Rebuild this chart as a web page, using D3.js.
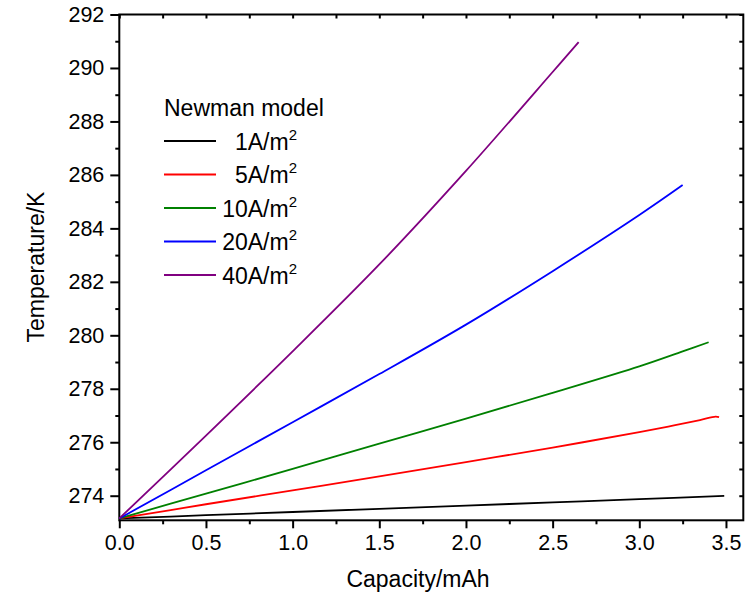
<!DOCTYPE html>
<html>
<head>
<meta charset="utf-8">
<script src="https://cdn.jsdelivr.net/npm/d3@7"></script>
<style>
  body { margin: 0; background: #fff; }
  svg text { font-family: Arial, "Liberation Sans", sans-serif; fill: #000; }
</style>
</head>
<body>
<svg id="chart" width="749" height="597"></svg>
<script>
// ============================================================
// DATA
// ============================================================
const seriesNames = ['1', '5', '10', '20', '40'];
const seriesColors = ['#000000', '#ff0000', '#008000', '#0000ff', '#800080'];

const cap1  = [0, 0.5, 1.0, 1.5, 2.0, 2.5, 3.0, 3.49];
const temp1 = [273.15, 273.27, 273.39, 273.51, 273.63, 273.75, 273.87, 273.99];

const cap5  = [0, 0.5, 1.0, 1.5, 2.0, 2.5, 3.0, 3.2, 3.35, 3.44, 3.46];
const temp5 = [273.15, 273.68, 274.2, 274.72, 275.26, 275.8, 276.38, 276.63, 276.83, 276.96, 276.94];

const cap10  = [0, 0.5, 1.0, 1.5, 2.0, 2.5, 3.0, 3.25, 3.40];
const temp10 = [273.15, 274.08, 275.0, 275.95, 276.88, 277.85, 278.84, 279.4, 279.74];

const cap20  = [0, 0.5, 1.0, 1.5, 2.0, 2.5, 3.0, 3.25];
const temp20 = [273.15, 274.95, 276.75, 278.55, 280.4, 282.4, 284.5, 285.62];

const cap40  = [0, 0.5, 1.0, 1.5, 2.0, 2.5, 2.65];
const temp40 = [273.15, 276.25, 279.4, 282.65, 286.15, 289.85, 290.97];

const xTicks = [0, 0.5, 1.0, 1.5, 2.0, 2.5, 3.0, 3.5];
const yTicks = [274, 276, 278, 280, 282, 284, 286, 288, 290, 292];

const series = [
  { name: seriesNames[0], color: seriesColors[0], x: cap1,  y: temp1 },
  { name: seriesNames[1], color: seriesColors[1], x: cap5,  y: temp5 },
  { name: seriesNames[2], color: seriesColors[2], x: cap10, y: temp10 },
  { name: seriesNames[3], color: seriesColors[3], x: cap20, y: temp20 },
  { name: seriesNames[4], color: seriesColors[4], x: cap40, y: temp40 }
];

// ============================================================
// SCALES
// ============================================================
const svg = d3.select('#chart');
const plotL = 119.3, plotR = 743.3, plotT = 14.5, plotB = 520.3;

const x = d3.scaleLinear().domain([0, 3.6]).range([plotL, plotR]);
const y = d3.scaleLinear().domain([273.08, 292]).range([plotB, plotT]);

// minor ticks halfway between majors
const xMinor = xTicks.map(v => v + 0.25).filter(v => v < 3.6);
const yMinor = yTicks.map(v => v - 1).filter(v => v > 273.08);

// ============================================================
// AXES
// ============================================================
function styleAxis(g) {
  g.select('.domain').remove();
  g.selectAll('line').attr('stroke', '#000').attr('stroke-width', 2);
  g.selectAll('text').style('font-size', '21.5px');
}

// bottom
svg.append('g')
  .attr('transform', `translate(0,${plotB})`)
  .call(d3.axisBottom(x).tickValues(xTicks).tickFormat(d3.format('.1f')).tickSize(8).tickPadding(6))
  .call(styleAxis);
svg.append('g')
  .attr('transform', `translate(0,${plotB})`)
  .call(d3.axisBottom(x).tickValues(xMinor).tickFormat('').tickSize(4))
  .call(styleAxis);

// left
svg.append('g')
  .attr('transform', `translate(${plotL},0)`)
  .call(d3.axisLeft(y).tickValues(yTicks).tickFormat(d3.format('d')).tickSize(9).tickPadding(6))
  .call(styleAxis);
svg.append('g')
  .attr('transform', `translate(${plotL},0)`)
  .call(d3.axisLeft(y).tickValues(yMinor).tickFormat('').tickSize(4))
  .call(styleAxis);

// top and right mirror ticks (pointing inward)
svg.append('g')
  .attr('transform', `translate(0,${plotT})`)
  .call(d3.axisBottom(x).tickValues(xTicks.concat(xMinor)).tickFormat('').tickSize(4))
  .call(styleAxis);
svg.append('g')
  .attr('transform', `translate(${plotR},0)`)
  .call(d3.axisLeft(y).tickValues(yTicks.concat(yMinor)).tickFormat('').tickSize(4))
  .call(styleAxis);

// frame
svg.append('rect')
  .attr('x', plotL).attr('y', plotT)
  .attr('width', plotR - plotL).attr('height', plotB - plotT)
  .attr('fill', 'none').attr('stroke', '#000').attr('stroke-width', 2);

// axis titles
svg.append('text')
  .attr('x', 418).attr('y', 587)
  .attr('text-anchor', 'middle')
  .style('font-size', '23px')
  .text('Capacity/mAh');

svg.append('text')
  .attr('transform', 'translate(44,267) rotate(-90)')
  .attr('text-anchor', 'middle')
  .style('font-size', '23px')
  .text('Temperature/K');

// ============================================================
// LINES
// ============================================================
const line = d3.line()
  .x(d => x(d[0]))
  .y(d => y(d[1]))
  .curve(d3.curveCatmullRom.alpha(0.5));

const plot = svg.append('g');
series.forEach(s => {
  plot.append('path')
    .datum(s.x.map((v, i) => [v, s.y[i]]))
    .attr('d', line)
    .attr('fill', 'none')
    .attr('stroke', s.color)
    .attr('stroke-width', 1.8);
});

// ============================================================
// LEGEND
// ============================================================
const legend = svg.append('g');
legend.append('text')
  .attr('x', 164).attr('y', 115.5)
  .style('font-size', '23px')
  .text('Newman model');

series.forEach((s, i) => {
  const ly = 141 + i * 33.5;
  legend.append('line')
    .attr('x1', 164).attr('x2', 216)
    .attr('y1', ly).attr('y2', ly)
    .attr('stroke', s.color).attr('stroke-width', 1.8);
  const t = legend.append('text')
    .attr('x', 297).attr('y', ly + 8.5)
    .attr('text-anchor', 'end')
    .style('font-size', '23px');
  t.append('tspan').text(s.name + 'A/m');
  t.append('tspan').attr('dy', -10).style('font-size', '15px').text('2');
});
</script>
</body>
</html>
